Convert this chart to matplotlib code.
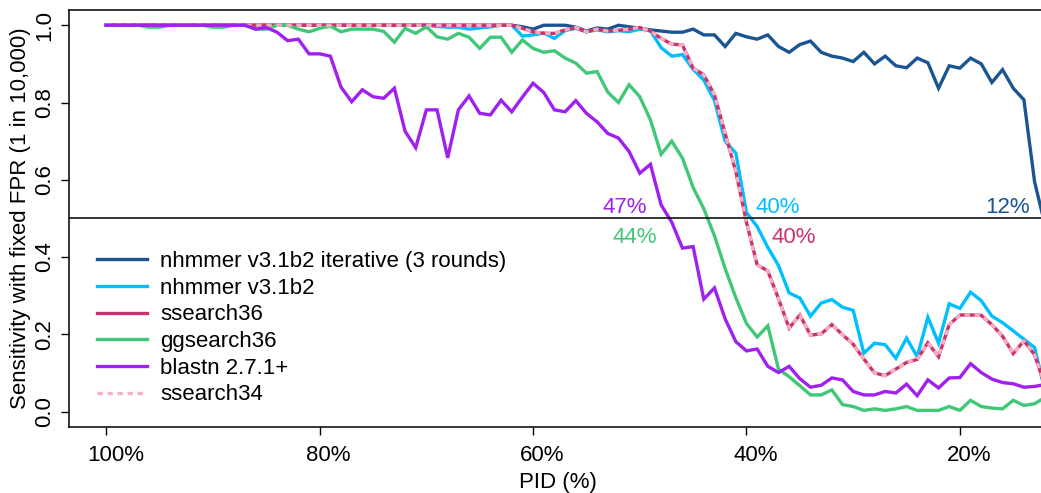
import matplotlib
matplotlib.use("Agg")
import matplotlib.pyplot as plt
from matplotlib.ticker import FormatStrFormatter
from matplotlib.transforms import ScaledTranslation

plt.rcParams["font.family"] = ["Liberation Sans", "DejaVu Sans"]

# PID bins, 100% down to 12%
pid = list(range(100, 11, -1))

nhmmer_iter = [1.0] * 39 + [
    0.996, 0.99, 1.0, 1.0, 1.0, 0.995, 0.985, 0.993, 0.99, 1.0,
    0.996, 0.992, 0.988, 0.985, 0.982, 0.982, 0.99, 0.975, 0.975, 0.945,
    0.979, 0.97, 0.964, 0.975, 0.945, 0.93, 0.95, 0.959, 0.93, 0.92,
    0.915, 0.906, 0.93, 0.9, 0.92, 0.895, 0.89, 0.915, 0.903, 0.837,
    0.895, 0.889, 0.915, 0.9, 0.852, 0.885, 0.837, 0.807, 0.595, 0.48]

nhmmer = [1.0] * 31 + [
    0.997, 0.995, 0.995, 0.99, 0.993, 0.996, 1.0, 1.0, 0.972,
    0.975, 0.98, 0.966, 0.986, 0.992, 0.983, 0.988, 0.983, 0.986, 0.983,
    0.99, 0.986, 0.942, 0.92, 0.924, 0.886, 0.858, 0.805, 0.70, 0.669,
    0.515, 0.479, 0.425, 0.378, 0.307, 0.294, 0.247, 0.281, 0.29, 0.27,
    0.262, 0.151, 0.177, 0.173, 0.138, 0.19, 0.142, 0.244, 0.177, 0.279,
    0.267, 0.309, 0.287, 0.247, 0.23, 0.209, 0.187, 0.166, 0.05]

ssearch36 = [1.0] * 39 + [
    0.992, 0.983, 0.979, 0.979, 0.988, 0.994, 0.983, 0.99, 0.985, 0.987,
    0.99, 0.994, 0.985, 0.966, 0.951, 0.949, 0.889, 0.872, 0.82, 0.72,
    0.621, 0.49, 0.38, 0.364, 0.292, 0.216, 0.25, 0.198, 0.201, 0.225,
    0.199, 0.174, 0.136, 0.1, 0.093, 0.11, 0.127, 0.135, 0.178, 0.142,
    0.225, 0.25, 0.25, 0.249, 0.225, 0.195, 0.15, 0.183, 0.147, 0.065]

ggsearch36 = [
    1.0, 1.0, 1.0, 1.0, 0.995, 0.995, 1.0, 1.0, 1.0, 1.0,
    0.995, 0.995, 1.0, 1.0, 0.99, 0.99, 1.0, 1.0, 0.99, 0.983,
    0.992, 0.998, 0.983, 0.99, 0.99, 0.99, 0.984, 0.956, 0.992, 0.979,
    0.996, 0.97, 0.964, 0.979, 0.969, 0.94, 0.969, 0.969, 0.93, 0.962,
    0.94, 0.93, 0.934, 0.915, 0.902, 0.876, 0.88, 0.827, 0.80, 0.846,
    0.815, 0.755, 0.666, 0.70, 0.656, 0.58, 0.525, 0.455, 0.37, 0.295,
    0.228, 0.193, 0.222, 0.11, 0.09, 0.067, 0.043, 0.043, 0.056, 0.018,
    0.013, 0.003, 0.007, 0.003, 0.007, 0.013, 0.003, 0.003, 0.003, 0.013,
    0.003, 0.029, 0.013, 0.009, 0.007, 0.029, 0.016, 0.02, 0.037]

blastn = [1.0] * 13 + [
    1.0, 0.99, 0.994, 0.982, 0.96, 0.964, 0.926, 0.926, 0.92,
    0.84, 0.802, 0.833, 0.815, 0.811, 0.837, 0.726, 0.683, 0.781, 0.781,
    0.657, 0.781, 0.817, 0.772, 0.768, 0.806, 0.776, 0.814, 0.85, 0.826,
    0.781, 0.776, 0.805, 0.772, 0.75, 0.72, 0.708, 0.673, 0.617, 0.64,
    0.535, 0.49, 0.423, 0.427, 0.291, 0.32, 0.24, 0.181, 0.157, 0.162,
    0.117, 0.101, 0.117, 0.085, 0.063, 0.068, 0.087, 0.082, 0.052, 0.043,
    0.043, 0.052, 0.048, 0.071, 0.041, 0.082, 0.061, 0.087, 0.088, 0.124,
    0.101, 0.084, 0.075, 0.072, 0.063, 0.065, 0.07]

# ssearch34 sits right on top of ssearch36
ssearch34 = list(ssearch36)

# 50% crossing labels: (text, x, y, colour)
cross_labels = [
    ("47%", 51.4, 0.514, "#A020F0"),
    ("44%", 50.5, 0.436, "#40C878"),
    ("40%", 37.1, 0.514, "#00BFFF"),
    ("40%", 35.6, 0.436, "#CD326E"),
    ("12%", 15.5, 0.514, "#1A5592"),
]

FS = 16
LW = 2.4

fig = plt.figure(figsize=(10.41, 4.93), dpi=100)
ax = fig.add_axes([68.7 / 1041, 66 / 493, 1014.1 / 1041, 417.2 / 493])

series = [
    (nhmmer_iter, "nhmmer v3.1b2 iterative (3 rounds)", "#1A5592", 2),
    (nhmmer, "nhmmer v3.1b2", "#00BFFF", 3),
    (ssearch36, "ssearch36", "#CD326E", 4),
    (ggsearch36, "ggsearch36", "#40C878", 5),
]
handles = []
for vals, name, col, z in series:
    h, = ax.plot(pid, vals, color=col, lw=LW, label=name, zorder=z,
                 solid_joinstyle="miter")
    handles.append(h)

h34, = ax.plot(pid, ssearch34, color="#F4AFC0", lw=LW, ls=(0, (1.6, 1.4)),
               label="ssearch34", zorder=6)
hbl, = ax.plot(pid, blastn, color="#A020F0", lw=LW, label="blastn 2.7.1+",
               zorder=7, solid_joinstyle="miter")
handles += [hbl, h34]

ax.axhline(0.5, color="black", lw=1.1, zorder=8)

for txt, x, y, col in cross_labels:
    ax.text(x, y, txt, color=col, fontsize=FS, ha="center", va="baseline",
            zorder=9)

ax.set_xlim(103.52, 8.48)
ax.set_ylim(-0.04, 1.04)
ax.set_xticks([100, 80, 60, 40, 20])
ax.set_xticklabels(["100%", "80%", "60%", "40%", "20%"])
ax.set_yticks([0, 0.2, 0.4, 0.6, 0.8, 1.0])
ax.yaxis.set_major_formatter(FormatStrFormatter("%.1f"))
ax.tick_params(axis="both", labelsize=FS, length=6, width=1.0, direction="out")
ax.tick_params(axis="x", pad=7)
ax.tick_params(axis="y", pad=4)
for lab in ax.get_yticklabels():
    lab.set_rotation(90)
    lab.set_va("center")

for sp in ax.spines.values():
    sp.set_linewidth(1.1)

ax.set_xlabel("PID (%)", fontsize=FS)
ax.set_ylabel("Sensitivity with fixed FPR (1 in 10,000)", fontsize=FS)
ax.xaxis.set_label_coords(0.4825, -0.108)
ax.yaxis.set_label_coords(-0.0372, 0.5)

ax.legend(handles=handles, loc="upper left", bbox_to_anchor=(0.0279, 0.4219),
          frameon=False, fontsize=FS, handlelength=2.25, handletextpad=0.59,
          labelspacing=0.256, borderpad=0, borderaxespad=0)

# x tick labels sit a little right of their ticks in the original
shift = ScaledTranslation(9 / 100, 0, fig.dpi_scale_trans)
for lab in ax.get_xticklabels():
    lab.set_transform(lab.get_transform() + shift)

fig.savefig("out.png", dpi=100)
